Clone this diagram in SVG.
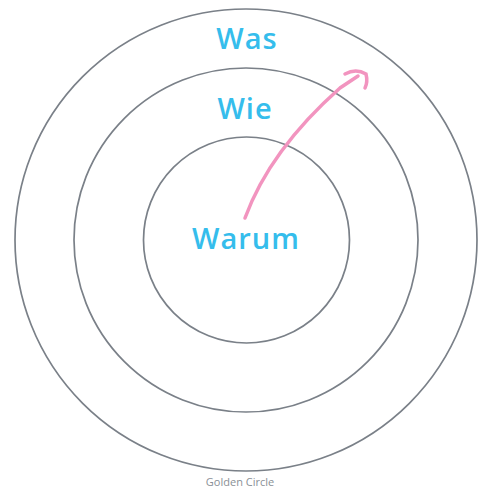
<svg xmlns="http://www.w3.org/2000/svg" width="481" height="490" viewBox="0 0 481 490">
<style>
.ring{fill:none;stroke:#7a8088;stroke-width:1.7}
.lbl{font-family:"Open Sans","Noto Sans",sans-serif;font-weight:600;fill:#35bdec;text-anchor:middle;font-size:29px;letter-spacing:1px}
.cap{font-family:"Open Sans","Noto Sans",sans-serif;font-size:11px;fill:#8a8f96;text-anchor:middle}
</style>
<rect width="481" height="490" fill="#ffffff"/>
<g id="outer"><circle class="ring" cx="246" cy="240" r="231"/><text class="lbl" x="247" y="49">Was</text></g>
<g id="middle"><circle class="ring" cx="246" cy="240" r="172"/><text class="lbl" x="245" y="119">Wie</text></g>
<g id="inner"><circle class="ring" cx="246.5" cy="240" r="103"/><text class="lbl" x="246" y="249">Warum</text></g>
<g id="connectors">
<path d="M245,218 Q270,150 340,88 L358,76" fill="none" stroke="#f294bf" stroke-width="3.5" stroke-linecap="round"/>
<path d="M345,74 Q356,68 366,74 Q368,82 365,88" fill="none" stroke="#f294bf" stroke-width="3.5" stroke-linecap="round"/>
</g>
<text class="cap" x="240" y="486">Golden Circle</text>
</svg>
